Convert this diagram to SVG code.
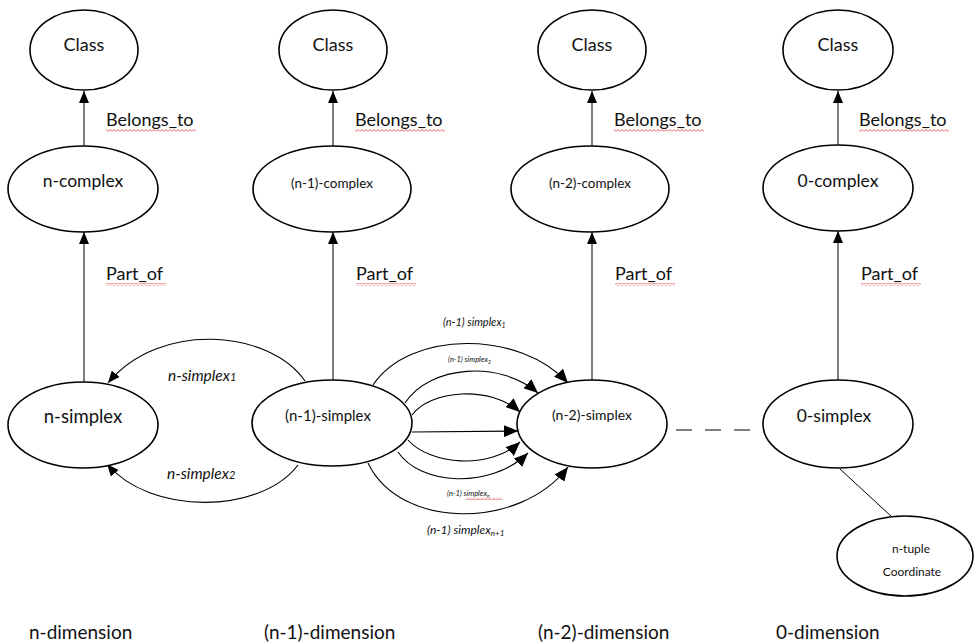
<svg xmlns="http://www.w3.org/2000/svg" width="978" height="644" viewBox="0 0 978 644">
<style>
.node{fill:#fff;stroke:#000;stroke-width:1.6}
.t{font-family:Lato,"Open Sans","Liberation Sans",sans-serif;fill:#111;text-anchor:middle}
.lbl{font-family:Lato,"Open Sans","Liberation Sans",sans-serif;fill:#111}
.it{font-style:italic}
.ln{fill:none;stroke:#000;stroke-width:1}
.arc{fill:none;stroke:#000;stroke-width:1.1}
</style>
<defs>
<marker id="ah" viewBox="0 0 12 10" refX="12" refY="5" markerWidth="12" markerHeight="10" markerUnits="userSpaceOnUse" orient="auto">
<path d="M0,0 L12,5 L0,10 Z" fill="#000"/>
</marker>
<marker id="ah2" viewBox="0 0 14 12" refX="14" refY="6" markerWidth="14" markerHeight="12" markerUnits="userSpaceOnUse" orient="auto">
<path d="M0,0 L14,6 L0,12 Z" fill="#000"/>
</marker>
<pattern id="wave" width="4" height="3" patternUnits="userSpaceOnUse">
<path d="M0,2.5 L2,0.5 L4,2.5" fill="none" stroke="#e03030" stroke-width="0.8"/>
</pattern>
</defs>

<g id="connectors">
<line class="ln" x1="84" y1="146" x2="84" y2="91" marker-end="url(#ah)"/>
<line class="ln" x1="333" y1="146" x2="333" y2="91" marker-end="url(#ah)"/>
<line class="ln" x1="592" y1="146" x2="592" y2="91" marker-end="url(#ah)"/>
<line class="ln" x1="838" y1="146" x2="838" y2="91" marker-end="url(#ah)"/>
<line class="ln" x1="84" y1="382" x2="84" y2="232" marker-end="url(#ah)"/>
<line class="ln" x1="333" y1="380" x2="333" y2="232" marker-end="url(#ah)"/>
<line class="ln" x1="592" y1="380" x2="592" y2="232" marker-end="url(#ah)"/>
<line class="ln" x1="838" y1="380" x2="838" y2="231" marker-end="url(#ah)"/>
<path class="arc" d="M305,381 C270,330 160,320 108,383" marker-end="url(#ah)"/>
<path class="arc" d="M298,465 C260,515 150,515 107,464" marker-end="url(#ah)"/>
<path class="arc" d="M373,385 C410,330 520,330 568,383" marker-end="url(#ah2)"/>
<path class="arc" d="M405,403 C430,365 500,360 538,393" marker-end="url(#ah2)"/>
<path class="arc" d="M412,415 C430,390 490,385 520,412" marker-end="url(#ah2)"/>
<path class="arc" d="M412,432 L518,431" marker-end="url(#ah2)"/>
<path class="arc" d="M408,440 C430,465 490,470 520,442" marker-end="url(#ah2)"/>
<path class="arc" d="M398,452 C420,485 490,490 528,453" marker-end="url(#ah2)"/>
<path class="arc" d="M368,463 C400,530 520,530 568,467" marker-end="url(#ah2)"/>
<line class="ln" x1="676" y1="430" x2="752" y2="430" stroke-dasharray="16,13" stroke-width="1.2"/>
<line class="ln" x1="840" y1="469" x2="892" y2="517" stroke="#444"/>
</g>

<g id="class1"><ellipse class="node" cx="84" cy="50" rx="54" ry="40"/><text class="t" x="84" y="51" font-size="18">Class</text></g>
<g id="class2"><ellipse class="node" cx="333" cy="50" rx="54" ry="40"/><text class="t" x="333" y="51" font-size="18">Class</text></g>
<g id="class3"><ellipse class="node" cx="592" cy="50" rx="54" ry="40"/><text class="t" x="592" y="51" font-size="18">Class</text></g>
<g id="class4"><ellipse class="node" cx="838" cy="50" rx="55" ry="40"/><text class="t" x="838" y="51" font-size="18">Class</text></g>

<g id="ncomplex"><ellipse class="node" cx="83" cy="189" rx="75" ry="43"/><text class="t" x="83" y="187" font-size="17.5">n-complex</text></g>
<g id="n1complex"><ellipse class="node" cx="332" cy="189" rx="79" ry="43"/><text class="t" x="332" y="188" font-size="13.5">(n-1)-complex</text></g>
<g id="n2complex"><ellipse class="node" cx="590" cy="189" rx="79" ry="43"/><text class="t" x="590" y="188" font-size="13.5">(n-2)-complex</text></g>
<g id="zerocomplex"><ellipse class="node" cx="838" cy="188" rx="75" ry="43"/><text class="t" x="838" y="187" font-size="17.5">0-complex</text></g>

<g id="nsimplex"><ellipse class="node" cx="83" cy="425" rx="75" ry="43"/><text class="t" x="83" y="423" font-size="18.5">n-simplex</text></g>
<g id="n1simplex"><ellipse class="node" cx="332" cy="423" rx="80" ry="43"/><text class="t" x="328" y="421" font-size="15">(n-1)-simplex</text></g>
<g id="n2simplex"><ellipse class="node" cx="592" cy="424" rx="75" ry="44"/><text class="t" x="592" y="420" font-size="14">(n-2)-simplex</text></g>
<g id="zerosimplex"><ellipse class="node" cx="838" cy="424" rx="75" ry="44"/><text class="t" x="834" y="422" font-size="17.5">0-simplex</text></g>
<g id="ntuple"><ellipse class="node" cx="905" cy="556" rx="68" ry="40"/><text class="t" x="911" y="553" font-size="12">n-tuple</text><text class="t" x="912" y="576" font-size="12">Coordinate</text></g>

<g id="labels">
<text class="lbl" x="106" y="126" font-size="18">Belongs_to</text>
<text class="lbl" x="355" y="126" font-size="18">Belongs_to</text>
<text class="lbl" x="614" y="126" font-size="18">Belongs_to</text>
<text class="lbl" x="859" y="126" font-size="18">Belongs_to</text>
<rect x="106" y="129" width="90" height="3" fill="url(#wave)"/>
<rect x="355" y="129" width="90" height="3" fill="url(#wave)"/>
<rect x="614" y="129" width="90" height="3" fill="url(#wave)"/>
<rect x="859" y="129" width="90" height="3" fill="url(#wave)"/>
<text class="lbl" x="106" y="280" font-size="18">Part_of</text>
<text class="lbl" x="356" y="280" font-size="18">Part_of</text>
<text class="lbl" x="615" y="280" font-size="18">Part_of</text>
<text class="lbl" x="861" y="280" font-size="18">Part_of</text>
<rect x="106" y="283" width="60" height="3" fill="url(#wave)"/>
<rect x="356" y="283" width="60" height="3" fill="url(#wave)"/>
<rect x="615" y="283" width="60" height="3" fill="url(#wave)"/>
<rect x="861" y="283" width="60" height="3" fill="url(#wave)"/>

<text class="lbl it" x="168" y="381" font-size="15.5">n-simplex<tspan font-size="11">1</tspan></text>
<text class="lbl it" x="167" y="479" font-size="15.5">n-simplex<tspan font-size="11">2</tspan></text>

<text class="lbl it" x="443" y="326" font-size="11">(n-1) simplex<tspan font-size="7" dy="2">1</tspan></text>
<text class="lbl it" x="448" y="362" font-size="7.5" fill="#333">(n-1) simplex<tspan font-size="5" dy="1.5">2</tspan></text>
<text class="lbl it" x="447" y="496" font-size="7.5" fill="#333">(n-1) simplex<tspan font-size="5" dy="1.5">n</tspan></text>
<rect x="466" y="497" width="36" height="3" fill="url(#wave)"/>
<text class="lbl it" x="427" y="534" font-size="12">(n-1) simplex<tspan font-size="8" dy="2">n+1</tspan></text>

<text class="lbl" x="29" y="639" font-size="19">n-dimension</text>
<text class="lbl" x="264" y="639" font-size="19">(n-1)-dimension</text>
<text class="lbl" x="538" y="639" font-size="19">(n-2)-dimension</text>
<text class="lbl" x="776" y="639" font-size="19">0-dimension</text>
</g>
</svg>
